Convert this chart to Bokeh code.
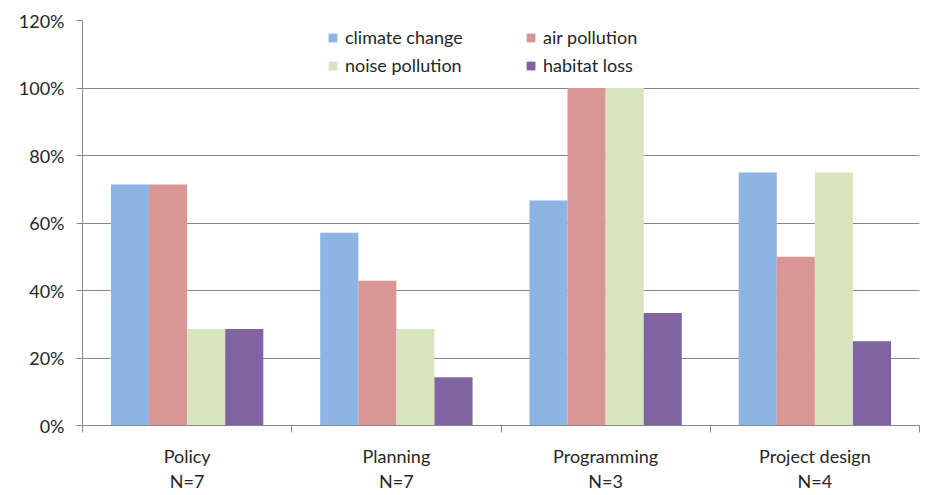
from bokeh.plotting import figure
from bokeh.models import (Range1d, FixedTicker, LinearAxis, Legend, LegendItem,
                          BoxAnnotation, ColumnDataSource)
from bokeh.embed import file_html
from bokeh.resources import INLINE

categories = ["Policy", "Planning", "Programming", "Project design"]
n_labels = ["N=7", "N=7", "N=3", "N=4"]
series_names = ["climate change", "air pollution", "noise pollution", "habitat loss"]
climate_change = [0.714, 0.571, 0.667, 0.75]
air_pollution = [0.714, 0.429, 1.0, 0.50]
noise_pollution = [0.286, 0.286, 1.0, 0.75]
habitat_loss = [0.286, 0.143, 0.333, 0.25]
colors = ["#8DB4E2", "#D99694", "#D7E4BD", "#8064A2"]
y_ticks = [0, 0.2, 0.4, 0.6, 0.8, 1.0, 1.2]
y_tick_labels = ["0%", "20%", "40%", "60%", "80%", "100%", "120%"]

FONT = "Lato"
TXT = "#262626"
AX = "#868686"

p = figure(width=940, height=494, output_backend="svg", toolbar_location=None,
           x_range=Range1d(0, len(categories)), y_range=Range1d(0, 1.2),
           min_border_left=82, min_border_right=21, min_border_top=20,
           min_border_bottom=62, x_axis_location=None)
p.outline_line_color = None
p.background_fill_color = "white"
p.border_fill_color = "white"

# y axis
yax = p.yaxis[0]
yax.ticker = FixedTicker(ticks=y_ticks)
yax.major_label_overrides = {t: l for t, l in zip(y_ticks, y_tick_labels)}
yax.axis_line_color = AX
yax.major_tick_line_color = AX
yax.major_tick_out = 6
yax.major_tick_in = 0
yax.minor_tick_line_color = None
yax.major_label_standoff = 12
yax.major_label_text_font = FONT
yax.major_label_text_font_size = "18px"
yax.major_label_text_color = TXT

p.ygrid.ticker = FixedTicker(ticks=y_ticks)
p.ygrid.grid_line_color = AX
p.xgrid.grid_line_color = None

# x axis: boundary ticks
bounds = list(range(len(categories) + 1))
xax1 = LinearAxis(ticker=FixedTicker(ticks=bounds))
xax1.major_label_overrides = {b: "" for b in bounds}
xax1.major_label_text_font_size = "1px"
xax1.major_label_standoff = 0
xax1.axis_line_color = AX
xax1.major_tick_line_color = AX
xax1.major_tick_out = 7
xax1.major_tick_in = 0
xax1.minor_tick_line_color = None
p.add_layout(xax1, "below")

centers = [i + 0.5 for i in range(len(categories))]
xax2 = LinearAxis(ticker=FixedTicker(ticks=centers))
xax2.major_label_overrides = {c: f"{cat}\n{n}" for c, cat, n in zip(centers, categories, n_labels)}
xax2.axis_line_color = None
xax2.major_tick_line_color = None
xax2.minor_tick_line_color = None
xax2.major_label_standoff = 6
xax2.major_label_text_font = FONT
xax2.major_label_text_font_size = "18px"
xax2.major_label_text_color = TXT
xax2.major_label_text_line_height = 1.15
p.add_layout(xax2, "below")

# bars
bar_w = 0.182
series = [climate_change, air_pollution, noise_pollution, habitat_loss]
offsets = [-1.5 * bar_w, -0.5 * bar_w, 0.5 * bar_w, 1.5 * bar_w]
items = {}
for name, vals, col, off in zip(series_names, series, colors, offsets):
    src = ColumnDataSource(dict(x=[c + off for c in centers], top=vals))
    r = p.vbar(x="x", top="top", width=bar_w, bottom=0, source=src,
               fill_color=col, line_color=None)
    items[name] = LegendItem(label=name, renderers=[r])

# gap in the top gridline
p.add_layout(BoxAnnotation(left=53, right=125, top=1.215, bottom=1.185,
                           left_units="screen", right_units="screen",
                           fill_color="white", fill_alpha=1, line_color=None,
                           level="overlay"))

# legend fills column by column: order so rows read climate/air, noise/habitat
legend_order = ["climate change", "noise pollution", "air pollution", "habitat loss"]
legend = Legend(items=[items[n] for n in legend_order], location=(245, 349), ncols=2,
                orientation="vertical")
legend.border_line_color = None
legend.background_fill_alpha = 0
legend.padding = 0
legend.margin = 0
legend.spacing = 6
legend.glyph_width = 11
legend.glyph_height = 11
legend.label_standoff = 7
legend.label_width = 174
legend.label_height = 20
legend.label_text_font = FONT
legend.label_text_font_size = "18px"
legend.label_text_color = TXT
legend.label_text_baseline = "middle"
p.add_layout(legend, "center")

open("out.html", "w").write(file_html(p, INLINE))
